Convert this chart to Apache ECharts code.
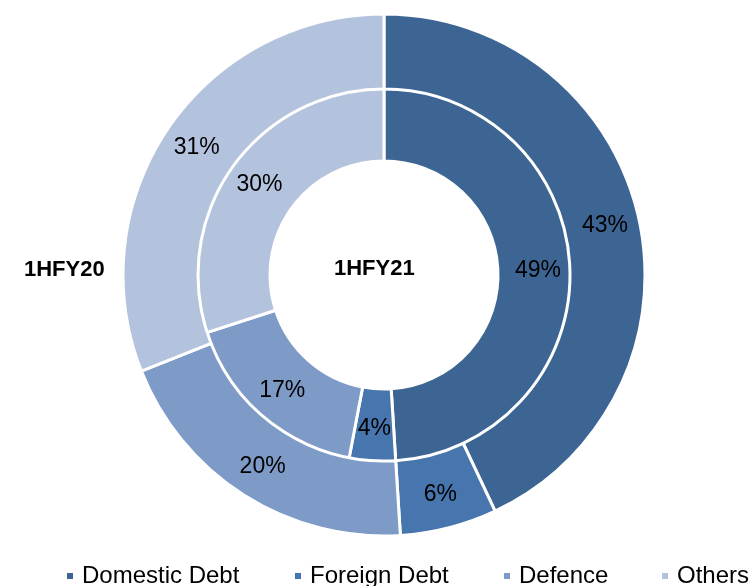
<!DOCTYPE html>
<html>
<head>
<meta charset="utf-8">
<script src="https://cdn.jsdelivr.net/npm/echarts@6/dist/echarts.min.js"></script>
<style>
  html, body { margin: 0; padding: 0; background: #fff; }
  #chart { width: 751px; height: 586px; }
</style>
</head>
<body>
<div id="chart"></div>
<script>
const categories = ['Domestic Debt', 'Foreign Debt', 'Defence', 'Others']
const values1HFY21 = [49, 4, 17, 30]
const values1HFY20 = [43, 6, 20, 31]
const colors = ['#3d6594', '#4775ad', '#7e9bc7', '#b4c3dd']

const mychart = echarts.init(document.getElementById('chart'))
const font = 'Liberation Sans, Arial, sans-serif'

const ring = (name, values, radius) => ({
  name,
  type: 'pie',
  center: [384, 275],
  radius,
  startAngle: 90,
  clockwise: true,
  animation: false,
  silent: true,
  itemStyle: { borderColor: '#fff', borderWidth: 3 },
  label: {
    position: 'inside',
    formatter: '{c}%',
    color: '#000',
    fontSize: 23,
    fontFamily: font
  },
  labelLine: { show: false },
  data: categories.map((c, i) => ({ name: c, value: values[i], itemStyle: { color: colors[i] } }))
})

// one legend per item so each sits where the original puts it
const legendLeft = [65, 293, 502, 660]
const legends = categories.map((c, i) => ({
  data: [c],
  left: legendLeft[i],
  top: 564,
  padding: 0,
  icon: 'rect',
  itemWidth: 8,
  itemHeight: 8,
  selectedMode: false,
  textStyle: { fontSize: 24, fontFamily: font, color: '#000', padding: [0, 0, 0, 3] }
}))

mychart.setOption({
  color: colors,
  legend: legends,
  graphic: [
    { type: 'text', left: 24, top: 259, style: { text: '1HFY20', font: 'bold 22px ' + font, fill: '#000' } },
    { type: 'text', left: 334, top: 258, style: { text: '1HFY21', font: 'bold 22px ' + font, fill: '#000' } }
  ],
  series: [
    ring('1HFY21', values1HFY21, [114, 188]),
    ring('1HFY20', values1HFY20, [186, 261])
  ]
})
</script>
</body>
</html>
